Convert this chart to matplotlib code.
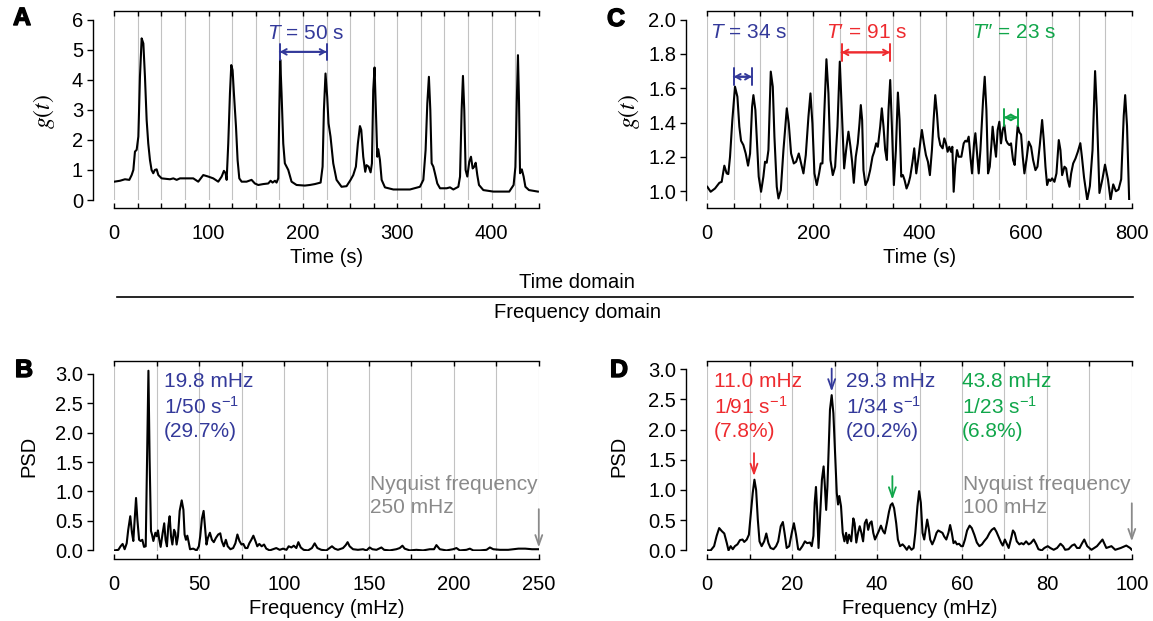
import matplotlib.pyplot as plt
from matplotlib.lines import Line2D
from matplotlib.ticker import MultipleLocator, FormatStrFormatter
import matplotlib.patheffects as pe

plt.rcParams['font.family'] = ['Liberation Sans', 'DejaVu Sans']
plt.rcParams['mathtext.fontset'] = 'custom'
plt.rcParams['mathtext.rm'] = 'Liberation Sans'
plt.rcParams['mathtext.it'] = 'Liberation Sans:italic'
plt.rcParams['mathtext.bf'] = 'Liberation Sans:bold'

BLUE = '#33399a'
RED = '#ee2b2f'
GREEN = '#10a64a'
GRAY = '#8a8a8a'
GRID = '#c2c2c2'

# ---- panel A: g(t), fast oscillation ----
a_time = [0, 6.0, 11.3, 15.9, 18.4, 20.2, 21.9, 23.7, 25.5, 27.2, 29, 30.8, 32.5, 34.3, 36, 37.8,
          39.5, 41.3, 43, 44.9, 46.7, 50.2, 59, 62.6, 66.1, 69.6, 76.7, 83.7, 89, 94.3, 99.6,
          104.9, 110.2, 113.8, 116.2, 118, 119.1, 120.8, 122.6, 124, 125.4, 126.8, 129, 130.7,
          132.5, 135, 140.2, 145.5, 149, 152.6, 157.9, 163.2, 165.7, 167.8, 170.3, 172, 173.8,
          174.9, 175.9, 177.3, 179.1, 180.8, 184.4, 187.9, 193.2, 202, 207.3, 212.6, 218.7,
          220.8, 222.2, 223.9, 225.7, 227.1, 229.2, 232.1, 235.6, 240.9, 246.2, 250.5, 253.3,
          256.1, 258.2, 260.4, 261.8, 263.9, 266, 267.4, 269.6, 271.7, 273.1, 274.5, 275.9,
          277.3, 278.8, 279.8, 281.6, 283.4, 286.9, 295.8, 302.8, 313.4, 324, 327.6, 330, 331.8,
          333.5, 335, 336.4, 338.2, 339.9, 342.4, 345.3, 352.3, 355.9, 359.4, 364.7, 366.5,
          368.2, 369.6, 371, 372.4, 374.2, 376.3, 378.1, 379.9, 381.6, 383.1, 384.8, 386.6,
          391.2, 401.8, 412.4, 418.7, 423.3, 425.2, 426.7, 427.9, 429, 430.1, 432, 433.9, 435.8,
          439.6, 449]
a_g = [0.61, 0.64, 0.69, 0.67, 0.83, 1.0, 1.61, 1.67, 2.11, 4.1, 5.38, 5.21, 4.1, 2.66, 1.88, 1.33,
       1.0, 0.89, 1.0, 1.02, 0.83, 0.72, 0.69, 0.72, 0.67, 0.72, 0.72, 0.72, 0.61, 0.83, 0.78,
       0.72, 0.61, 0.78, 0.97, 0.89, 0.67, 1.88, 3.55, 4.49, 4.32, 3.55, 2.44, 1.33,
       0.72, 0.61, 0.61, 0.67, 0.55, 0.5, 0.53, 0.55, 0.64, 0.58, 0.64, 0.58, 0.72,
       2.99, 4.67, 3.55, 1.88, 1.22, 1.0, 0.61, 0.5, 0.48, 0.5, 0.53, 0.58,
       1.11, 2.99, 4.21, 3.43, 2.55, 2.11, 1.22, 0.67, 0.44, 0.46, 0.67, 0.83,
       1.11, 1.88, 2.46, 2.33, 1.44, 0.94, 1.16, 1.11, 0.92, 1.22, 3.66, 4.41,
       2.99, 1.44, 1.69, 1.33, 0.67, 0.42, 0.35, 0.35, 0.35, 0.44, 0.67, 1.66, 3.21,
       4.1, 2.99, 1.22, 1.11, 0.89, 0.55, 0.39, 0.39, 0.42, 0.35, 0.44, 0.78,
       2.99, 4.13, 2.99, 1.0, 0.78, 1.27, 1.44, 1.05, 1.11, 1.24, 0.83, 0.5,
       0.33, 0.28, 0.28, 0.28, 0.5, 1.1, 3.32, 4.82, 3.32, 0.89, 1.02, 0.78, 0.44,
       0.33, 0.28]

# ---- panel C: g(t), irregular oscillation ----
c_time = [0, 6.3, 14.5, 22.7, 27.1, 32.1, 36.5, 39.6, 42.8, 47.2, 52.2, 56.7, 60.4, 63.6, 68, 72.4,
          76.8, 80.6, 84.4, 86.9, 90.6, 93.1, 96.9, 101.3, 105.7, 108.8, 112, 115.2, 119.6, 123.4,
          126.5, 130.9, 134.1, 138.5, 143.5, 149.8, 153.5, 157.9, 163, 167.4, 172.4, 176.8, 181.2,
          185.6, 190.6, 194.4, 198.1, 201.9, 206.3, 210.7, 213.8, 217, 220.7, 224.5, 228.3, 232.1,
          236.5, 240.9, 245.3, 249.7, 253.5, 257.9, 261.6, 266, 269.8, 272.9, 276.1, 279.8, 283.6,
          286.8, 289.3, 291.8, 294.3, 298.1, 302.5, 306.9, 311.3, 314.5, 318.2, 321.4, 325.8,
          328.9, 332.1, 335.2, 338.4, 341.5, 344.7, 347.9, 351.6, 355.4, 359.2, 362.3, 365.5,
          368.6, 371.8, 375.5, 379.3, 382.4, 386.8, 390, 393.8, 398.2, 401.9, 404.4, 408.2, 412,
          415.8, 419.5, 423.3, 426.5, 429.6, 432.8, 435.9, 439.1, 443.5, 446.6, 449.8, 452.9,
          456.1, 459.2, 461.8, 464.3, 467.4, 470.6, 473.7, 478.8, 483.2, 486.3, 489.5, 492.6,
          495.8, 498.9, 502.7, 505.2, 508.4, 511.5, 514.7, 519.7, 522.8, 526, 529.1, 532.3, 535.4,
          537.7, 540.9, 544.1, 547.2, 550.4, 553.5, 556.7, 559.8, 563, 566.1, 569.3, 572.4, 576.2,
          579.3, 582.5, 585, 588.2, 591.3, 594.5, 597.6, 601.4, 605.8, 610.2, 614, 618.4, 622.2,
          626.6, 631, 634.1, 637.3, 640.4, 643.6, 646.7, 649.8, 654.2, 658, 662.4, 665.5, 668.7,
          673.1, 676.3, 679.4, 682.6, 685.7, 689.5, 693.9, 698.3, 703, 706, 710, 716, 721, 726,
          730.8, 734, 739, 744.6, 749.5, 755, 760, 765, 770, 775, 780, 784.8, 787.5, 791, 795]
c_g = [1.026, 0.997, 1.016, 1.049, 1.055, 1.149, 1.104, 1.1, 1.2, 1.415, 1.609, 1.551, 1.376, 1.294,
       1.269, 1.22, 1.149, 1.22, 1.492, 1.56, 1.473, 1.318, 1.085, 0.997, 1.085, 1.172, 1.166, 1.24,
       1.697, 1.609, 1.318, 1.026, 0.958, 1.006, 1.24, 1.483, 1.395, 1.22, 1.162, 1.172, 1.22,
       1.162, 1.104, 1.211, 1.434, 1.57, 1.395, 1.104, 1.036, 1.104, 1.162, 1.162, 1.473, 1.769,
       1.57, 1.182, 1.094, 1.143, 1.376, 1.755, 1.473, 1.133, 1.24, 1.347, 1.259, 1.172, 1.049,
       1.201, 1.279, 1.395, 1.502, 1.415, 1.123, 1.036, 1.065, 1.123, 1.201, 1.23, 1.279, 1.259,
       1.376, 1.483, 1.376, 1.24, 1.182, 1.473, 1.648, 1.376, 1.036, 1.24, 1.575, 1.415, 1.085,
       1.094, 1.065, 1.016, 1.046, 1.085, 1.172, 1.25, 1.104, 1.201, 1.298, 1.357, 1.279, 1.211,
       1.172, 1.094, 1.24, 1.415, 1.56, 1.454, 1.318, 1.269, 1.25, 1.308, 1.279, 1.23, 1.259,
       1.23, 1.259, 0.997, 1.153, 1.24, 1.201, 1.201, 1.279, 1.294, 1.289, 1.318, 1.201, 1.104,
       1.279, 1.338, 1.22, 1.104, 1.24, 1.531, 1.667, 1.473, 1.104, 1.143, 1.269, 1.376, 1.279,
       1.201, 1.357, 1.405, 1.279, 1.357, 1.386, 1.298, 1.279, 1.269, 1.279, 1.182, 1.153, 1.289,
       1.382, 1.343, 1.331, 1.201, 1.104, 1.182, 1.289, 1.259, 1.182, 1.123, 1.143, 1.269, 1.415,
       1.298, 1.143, 1.036, 1.069, 1.06, 1.075, 1.055, 1.104, 1.298, 1.24, 1.094, 1.143, 1.133,
       1.065, 1.026, 1.104, 1.162, 1.191, 1.23, 1.28, 1.2, 1.08, 0.95, 1.03, 1.24, 1.70, 1.48,
       0.99, 1.07, 1.155, 1.07, 0.95, 1.04, 1.0, 1.01, 1.07, 1.44, 1.56, 1.38, 0.95]

# ---- panel B: PSD of A ----
b_freq = [0, 2.4, 3.7, 4.9, 6.1, 7.3, 8.2, 9.4, 10.4, 11.2, 12, 12.8, 13.6, 14.6, 15.5, 16.5, 17.5,
          18.5, 19.3, 20.1, 20.8, 21.6, 22.2, 23, 24.2, 25, 25.7, 26.5, 27.3, 28.5, 29.4, 30.2, 31,
          31.8, 32.6, 33.4, 34.2, 35.2, 35.9, 36.7, 37.5, 38.5, 39.7, 40.7, 41.4, 42.2, 43, 43.8,
          44.6, 46.5, 48.5, 49.8, 50.6, 51.6, 52.6, 53.4, 54.3, 55.1, 56.3, 57.5, 58.6, 59.8, 61.2,
          62.4, 63.3, 64.5, 65.7, 66.8, 68.4, 70, 71.3, 72.5, 73.7, 74.9, 76, 77.2, 78.4, 79.5,
          80.7, 81.9, 83.1, 84.2, 85.4, 86.8, 88.2, 89.5, 91.5, 93.5, 95.4, 97.4, 99.4, 101.4,
          102.7, 104.3, 105.7, 107.2, 108.4, 109.8, 111.5, 114.1, 116.4, 118, 119.6, 121.9, 124.9,
          126.8, 128.2, 129.8, 131.7, 134.7, 136.3, 137.4, 138.6, 140.6, 143.5, 146.5, 148.5,
          150.4, 152, 154.4, 157.3, 158.9, 162.2, 166.1, 168.1, 169.7, 171, 174, 177.9, 181.8,
          185.8, 188.3, 189.7, 191.7, 195.6, 199.5, 201.5, 203.5, 207.4, 209.4, 211.4, 215.3,
          219.2, 221.2, 223.2, 227.1, 232, 238, 242, 246, 250]
b_psd = [0, 0.01, 0.07, 0.11, 0.02, 0.12, 0.35, 0.58, 0.30, 0.16, 0.52, 0.89, 0.52, 0.18, 0.16, 0.18,
         0.06, 0.07, 1.54, 3.05, 1.54, 0.33, 0.27, 0.16, 0.30, 0.24, 0.34, 0.18, 0.06, 0.30, 0.46,
         0.18, 0.07, 0.41, 0.58, 0.24, 0.10, 0.35, 0.30, 0.10, 0.24, 0.67, 0.85, 0.69, 0.27, 0.18,
         0.25, 0.14, 0.02, 0.03, 0.0, 0.07, 0.24, 0.54, 0.67, 0.41, 0.10, 0.21, 0.30, 0.18, 0.14,
         0.21, 0.27, 0.29, 0.16, 0.07, 0.18, 0.07, 0.02, 0.04, 0.12, 0.27, 0.16, 0.10, 0.11, 0.04,
         0.04, 0.12, 0.18, 0.25, 0.16, 0.07, 0.11, 0.07, 0.10, 0.03, 0.0, 0.02, 0.04, 0.01, 0.03,
         0.01, 0.07, 0.05, 0.08, 0.04, 0.14, 0.05, 0.01, 0.0, 0.04, 0.12, 0.04, 0.01, 0.0, 0.04,
         0.07, 0.03, 0.01, 0.04, 0.09, 0.14, 0.07, 0.02, 0.01, 0.02, 0.0, 0.05, 0.02, 0.01, 0.05,
         0.01, 0.0, 0.02, 0.04, 0.08, 0.03, 0.0, 0.01, 0.0, 0.02, 0.02, 0.09, 0.02, 0.0, 0.02,
         0.04, 0.0, 0.01, 0.03, 0.0, 0.0, 0.01, 0.05, 0.02, 0.01, 0.01, 0.03, 0.03, 0.02, 0.02]

# ---- panel D: PSD of C ----
d_freq = [0, 0.8, 1.6, 2.2, 2.8, 3.4, 4, 4.6, 5.0, 5.5, 6, 6.5, 7.1, 7.7, 8.3, 8.7, 9.3, 9.8, 10.2,
          10.7, 11.1, 11.5, 11.9, 12.3, 12.8, 13.4, 13.9, 14.4, 14.9, 15.6, 16.2, 16.7, 17.3, 17.8,
          18.2, 18.7, 19.3, 19.9, 20.4, 20.9, 21.4, 21.8, 22.4, 23, 23.5, 24.2, 24.6, 25, 25.3, 25.6,
          25.9, 26.2, 26.6, 27, 27.4, 27.7, 28, 28.3, 28.6, 28.9, 29.3, 29.7, 30.1, 30.5, 30.8,
          31.1, 31.5, 31.9, 32.3, 32.7, 33, 33.4, 33.9, 34.4, 34.7, 35.1, 35.5, 35.9, 36.3, 36.7,
          37.1, 37.5, 37.9, 38.3, 38.7, 39.1, 39.5, 40, 40.4, 40.9, 41.4, 41.8, 42.3, 42.8, 43.2,
          43.6, 44, 44.5, 44.9, 45.4, 46, 46.4, 47, 47.5, 48.1, 48.6, 49, 49.5, 49.9, 50.3, 50.7,
          51.1, 51.5, 51.8, 52.2, 52.5, 53, 53.5, 54, 54.4, 54.9, 55.4, 55.8, 56.3, 56.8, 57.2,
          57.6, 58, 58.4, 58.8, 59.3, 59.8, 60.2, 60.7, 61.2, 61.8, 62.3, 62.9, 63.5, 64.1, 64.7,
          65.2, 65.9, 66.5, 67, 67.6, 68.1, 68.6, 69.2, 69.6, 70.1, 70.6, 71, 71.5, 72, 72.4, 72.9,
          73.5, 74, 74.5, 75.1, 75.7, 76.2, 76.9, 77.5, 78, 78.8, 79.4, 80.2, 80.8, 81.6, 82.4,
          83.2, 83.8, 84.3, 85.1, 85.9, 86.5, 87.1, 87.7, 88.3, 88.8, 89.5, 90.5, 91.8, 93.1, 94,
          95.2, 96.1, 97.4, 98.7, 99.6, 100]
d_psd = [0.0, 0.0, 0.07, 0.24, 0.37, 0.32, 0.28, 0.12, 0.0, 0.07, 0.02, 0.07, 0.10, 0.17, 0.18, 0.14,
         0.18, 0.26, 0.56, 0.95, 1.17, 1.0, 0.51, 0.15, 0.07, 0.15, 0.28, 0.12, 0.04, 0.02, 0.07,
         0.15, 0.40, 0.47, 0.29, 0.04, 0.07, 0.29, 0.45, 0.26, 0.02, 0.01, 0.07, 0.15, 0.12, 0.13,
         0.07, 0.24, 0.79, 1.05, 0.62, 0.04, 0.62, 1.17, 1.39, 1.06, 0.67, 1.06, 1.72, 2.33, 2.57,
         2.27, 1.61, 0.95, 0.76, 0.90, 0.73, 0.29, 0.15, 0.29, 0.12, 0.26, 0.15, 0.53, 0.45, 0.13,
         0.29, 0.40, 0.29, 0.15, 0.45, 0.51, 0.34, 0.45, 0.48, 0.29, 0.18, 0.26, 0.32, 0.41, 0.32,
         0.28, 0.45, 0.64, 0.75, 0.78, 0.70, 0.45, 0.18, 0.07, 0.10, 0.07, 0.01, 0.07, 0.01, 0.04,
         0.29, 0.73, 0.98, 0.79, 0.29, 0.18, 0.37, 0.51, 0.35, 0.18, 0.10, 0.18, 0.29, 0.33, 0.31,
         0.29, 0.23, 0.18, 0.29, 0.42, 0.29, 0.12, 0.15, 0.10, 0.11, 0.07, 0.07, 0.18, 0.33, 0.41,
         0.37, 0.26, 0.13, 0.07, 0.10, 0.15, 0.21, 0.29, 0.34, 0.37, 0.31, 0.23, 0.13, 0.08, 0.18,
         0.10, 0.04, 0.18, 0.33, 0.29, 0.15, 0.10, 0.12, 0.10, 0.15, 0.10, 0.12, 0.18, 0.10, 0.02,
         0.0, 0.04, 0.07, 0.04, 0.01, 0.04, 0.11, 0.07, 0.01, 0.02, 0.08, 0.10, 0.04, 0.04, 0.12,
         0.18, 0.07, 0.01, 0.07, 0.18, 0.04, 0.07, 0.01, 0.04, 0.08, 0.04, 0.01]

# annotations: (start, end, height) of the period brackets
a_period = (175.5, 225.0, 4.93)
c_periods = [(50, 84, 1.667, BLUE), (253, 344, 1.809, RED), (559, 585, 1.43, GREEN)]
c_period_labels = [(r'$T$ = 34 s', 77, BLUE), (r'$T$′ = 91 s', 301, RED), (r'$T$″ = 23 s', 579, GREEN)]

b_peak_lines = ['19.8 mHz', r'1/50 s$^{-1}$', '(29.7%)']
d_peak_lines = [['11.0 mHz', r'1/91 s$^{-1}$', '(7.8%)'],
                ['29.3 mHz', r'1/34 s$^{-1}$', '(20.2%)'],
                ['43.8 mHz', r'1/23 s$^{-1}$', '(6.8%)']]
d_peak_freqs = [11.0, 29.3, 43.6]
d_peak_colors = [RED, BLUE, GREEN]

FS = 14.5


def style_axes(ax, xmax, xmajor, xminor, ylim, ybounds, ystep, yfmt):
    ax.set_xlim(0, xmax)
    ax.set_ylim(*ylim)
    ax.spines['right'].set_visible(False)
    ax.spines['left'].set_position(('outward', 15))
    ax.spines['left'].set_bounds(*ybounds)
    ax.spines['bottom'].set_position(('outward', 6))
    for s in ['left', 'bottom', 'top']:
        ax.spines[s].set_linewidth(1.0)
    ax.xaxis.set_major_locator(MultipleLocator(xmajor))
    ax.xaxis.set_minor_locator(MultipleLocator(xminor))
    ax.yaxis.set_major_locator(MultipleLocator(ystep))
    ax.yaxis.set_major_formatter(FormatStrFormatter(yfmt))
    ax.tick_params(axis='x', which='both', direction='in', top=True, length=3.5, width=1.0,
                   labelsize=FS, pad=11)
    ax.tick_params(axis='y', direction='out', length=4.5, width=1.0, labelsize=FS, pad=3)
    ax.grid(True, axis='x', which='both', color=GRID, lw=0.8)
    ax.set_axisbelow(True)


def period_arrow(ax, t0, t1, y, color):
    ax.annotate('', xy=(t1, y), xytext=(t0, y),
                arrowprops=dict(arrowstyle='<->,head_length=0.35,head_width=0.2', color=color,
                                lw=1.4, shrinkA=0, shrinkB=0, mutation_scale=10))
    ax.annotate('', xy=(t1, y), xytext=(t0, y),
                arrowprops=dict(arrowstyle='|-|,widthA=0.6,widthB=0.6', color=color,
                                lw=1.4, shrinkA=0, shrinkB=0, mutation_scale=10))


def down_arrow(ax, x, y0, y1, color):
    ax.annotate('', xy=(x, y1), xytext=(x, y0),
                arrowprops=dict(arrowstyle='->,head_length=0.7,head_width=0.25', color=color,
                                lw=1.3, shrinkA=0, shrinkB=0, mutation_scale=10))


def text_block(ax, x, ys, lines, color):
    for y, line in zip(ys, lines):
        ax.text(x, y, line, color=color, fontsize=15, ha='left', va='center')


fig = plt.figure(figsize=(11.53, 6.21), dpi=100)
W, H = 1153, 621
left_x, right_x, width = 114.3 / W, 707.3 / W, 424.5 / W
top_y, top_h = 1 - 200 / H, 189 / H
bot_y, bot_h = 1 - 551 / H, 190 / H

axA = fig.add_axes([left_x, top_y, width, top_h])
axC = fig.add_axes([right_x, top_y, width, top_h])
axB = fig.add_axes([left_x, bot_y, width, bot_h])
axD = fig.add_axes([right_x, bot_y, width, bot_h])

# A
axA.plot(a_time, a_g, color='black', lw=1.5)
style_axes(axA, 450, 100, 25, (0, 6.29), (0, 6), 1, '%d')
axA.set_xlabel('Time (s)', fontsize=FS, labelpad=4)
axA.set_ylabel('$g(t)$', fontsize=17, math_fontfamily='stix')
axA.yaxis.set_label_coords(-0.135, 0.47)
period_arrow(axA, a_period[0], a_period[1], a_period[2], BLUE)
axA.text(203, 5.55, r'$T$ = 50 s', color=BLUE, fontsize=15, ha='center', va='center')

# C
axC.plot(c_time, c_g, color='black', lw=1.5)
style_axes(axC, 800, 200, 50, (0.949, 2.05), (0.949, 2.0), 0.2, '%.1f')
axC.set_xlabel('Time (s)', fontsize=FS, labelpad=4)
axC.set_ylabel('$g(t)$', fontsize=17, math_fontfamily='stix')
axC.yaxis.set_label_coords(-0.155, 0.47)
for t0, t1, y, col in c_periods:
    period_arrow(axC, t0, t1, y, col)
for label, x, col in c_period_labels:
    axC.text(x, 1.922, label, color=col, fontsize=15, ha='center', va='center')

# B
axB.plot(b_freq, b_psd, color='black', lw=1.5)
style_axes(axB, 250, 50, 25, (-0.01, 3.215), (0, 3), 0.5, '%.1f')
axB.set_xlabel('Frequency (mHz)', fontsize=FS, labelpad=4)
axB.set_ylabel('PSD', fontsize=FS)
axB.yaxis.set_label_coords(-0.18, 0.5)
text_block(axB, 29.3, [2.865, 2.442, 2.019], b_peak_lines, BLUE)
text_block(axB, 150.4, [1.117, 0.722], ['Nyquist frequency', '250 mHz'], GRAY)
down_arrow(axB, 250, 0.70, 0.05, GRAY)

# D
axD.plot(d_freq, d_psd, color='black', lw=1.5)
style_axes(axD, 100, 20, 10, (-0.01, 3.135), (0, 3), 0.5, '%.1f')
axD.set_xlabel('Frequency (mHz)', fontsize=FS, labelpad=4)
axD.set_ylabel('PSD', fontsize=FS)
axD.yaxis.set_label_coords(-0.185, 0.5)
for x, lines, col in zip([1.6, 32.7, 60.0], d_peak_lines, d_peak_colors):
    text_block(axD, x, [2.794, 2.381, 1.969], lines, col)
down_arrow(axD, d_peak_freqs[0], 1.61, 1.23, RED)
down_arrow(axD, d_peak_freqs[1], 3.01, 2.63, BLUE)
down_arrow(axD, d_peak_freqs[2], 1.23, 0.84, GREEN)
text_block(axD, 60.2, [1.089, 0.71], ['Nyquist frequency', '100 mHz'], GRAY)
down_arrow(axD, 100, 0.78, 0.15, GRAY)

# panel letters
for letter, x, y in [('A', 13, 18), ('B', 15, 370), ('C', 607, 19), ('D', 610, 370)]:
    fig.text(x / W, 1 - y / H, letter, fontsize=18, fontweight='bold', ha='left', va='center',
             path_effects=[pe.withStroke(linewidth=1.0, foreground='black')])

# domain separator
fig.text(577 / W, 1 - 283 / H, 'Time domain', fontsize=FS, ha='center', va='center')
fig.text(577 / W, 1 - 313 / H, 'Frequency domain', fontsize=FS, ha='center', va='center')
fig.add_artist(Line2D([117 / W, 1133 / W], [1 - 297 / H, 1 - 297 / H], color='black', lw=1.2))

plt.savefig('out.png', dpi=100)
